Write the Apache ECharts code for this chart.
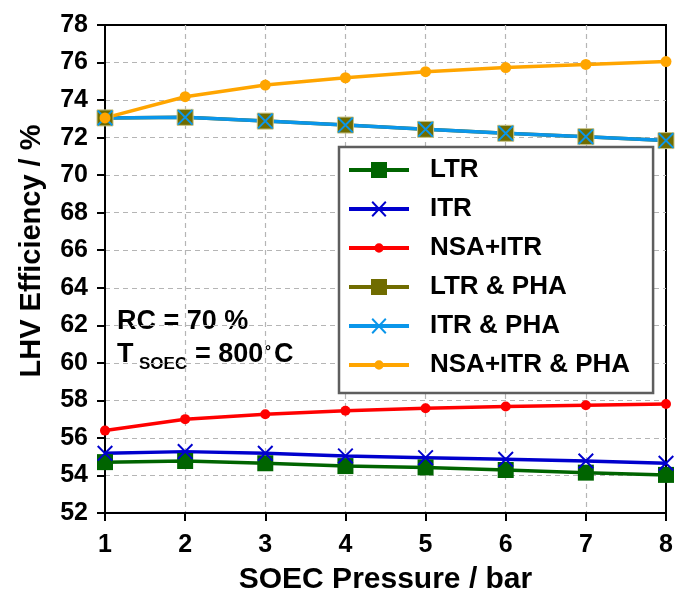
<!DOCTYPE html>
<html>
<head>
<meta charset="utf-8">
<script src="https://cdn.jsdelivr.net/npm/echarts@6/dist/echarts.min.js"></script>
<style>
  html, body { margin: 0; padding: 0; background: #fff; }
  #chart { width: 675px; height: 592px; }
</style>
</head>
<body>
<div id="chart"></div>
<script>
// 数据
var pressure = [1, 2, 3, 4, 5, 6, 7, 8];
var ltr = [54.71, 54.77, 54.65, 54.50, 54.43, 54.29, 54.15, 54.03];
var itr = [55.18, 55.27, 55.18, 55.04, 54.95, 54.86, 54.77, 54.65];
var nsaItr = [56.39, 57.00, 57.26, 57.45, 57.58, 57.67, 57.74, 57.81];
var ltrPha = [73.05, 73.08, 72.88, 72.67, 72.44, 72.23, 72.05, 71.84];
var itrPha = [73.05, 73.08, 72.88, 72.67, 72.44, 72.23, 72.05, 71.84];
var nsaItrPha = [73.05, 74.18, 74.80, 75.19, 75.51, 75.73, 75.90, 76.05];
var yTicks = [52, 78, 2];

var FONT = 'Liberation Sans';

// x marker as a filled path
var xMark = 'path://M0 1.4L1.4 0L16 14.6L14.6 16ZM14.6 0L16 1.4L1.4 16L0 14.6Z';
// legend icons: line + marker, 60x16 box
var corners = 'M0 0L0.01 0L0.01 0.01ZM59.99 15.99L60 15.99L60 16Z';
var bar = 'M0 6L60 6L60 10L0 10Z';
var iconSquare = 'path://' + corners + bar + 'M22 0L38 0L38 16L22 16Z';
var iconX = 'path://' + corners + bar + 'M22.5 1.4L23.9 0L37.5 14.6L36.1 16ZM36.1 0L37.5 1.4L23.9 16L22.5 14.6Z';
var iconDot = 'path://' + corners + bar + 'M34.7 8A4.7 4.7 0 1 1 25.3 8A4.7 4.7 0 1 1 34.7 8Z';

function pairs(ys) {
  var out = [];
  for (var i = 0; i < pressure.length; i++) out.push([pressure[i], ys[i]]);
  return out;
}

function mkSeries(name, ys, color, symbol, size, extra) {
  var s = {
    name: name,
    type: 'line',
    data: pairs(ys),
    symbol: symbol,
    symbolSize: size,
    showAllSymbol: true,
    lineStyle: { color: color, width: 3.5 },
    itemStyle: { color: color },
    emphasis: { disabled: true }
  };
  if (extra) s.itemStyle = extra;
  return s;
}

var myChart = echarts.init(document.getElementById('chart'));

var option = {
  animation: false,
  grid: {
    left: 105, right: 9, top: 25, bottom: 79,
    outerBoundsMode: 'none',
    show: true, borderColor: '#000', borderWidth: 2
  },
  xAxis: {
    type: 'value', min: 1, max: 8, interval: 1,
    name: 'SOEC Pressure / bar',
    nameLocation: 'middle', nameGap: 52,
    nameTextStyle: { fontFamily: FONT, fontWeight: 'bold', fontSize: 30, color: '#000' },
    axisLine: { lineStyle: { color: '#000', width: 2 } },
    axisTick: { show: true, inside: false, length: 8, lineStyle: { color: '#000', width: 2 } },
    axisLabel: { fontFamily: FONT, fontWeight: 'bold', fontSize: 25, color: '#000', margin: 20 },
    splitLine: { show: true, showMinLine: false, showMaxLine: false, lineStyle: { color: '#b5b5b5', type: [5, 4], width: 1.2 } }
  },
  yAxis: {
    type: 'value', min: yTicks[0], max: yTicks[1], interval: yTicks[2],
    name: 'LHV Efficiency / %',
    nameLocation: 'middle', nameGap: 59,
    nameTextStyle: { fontFamily: FONT, fontWeight: 'bold', fontSize: 29, color: '#000', padding: [0, 0, 0, 36] },
    axisLine: { show: true, lineStyle: { color: '#000', width: 2 } },
    axisTick: { show: true, inside: false, length: 8, lineStyle: { color: '#000', width: 2 } },
    axisLabel: { fontFamily: FONT, fontWeight: 'bold', fontSize: 25, color: '#000', margin: 17 },
    splitLine: { show: true, showMinLine: false, showMaxLine: false, lineStyle: { color: '#b5b5b5', type: [5, 4], width: 1.2 } }
  },
  legend: {
    orient: 'vertical',
    left: 339, top: 147,
    padding: [9, 23, 14, 10],
    backgroundColor: '#fff',
    borderColor: '#5e5e5e', borderWidth: 2.5,
    itemWidth: 60, itemHeight: 16, itemGap: 11,
    itemStyle: { borderWidth: 0 },
    textStyle: { fontFamily: FONT, fontWeight: 'bold', fontSize: 26, color: '#000', lineHeight: 28, padding: [0, 0, 0, 16] },
    data: [
      { name: 'LTR', icon: iconSquare },
      { name: 'ITR', icon: iconX },
      { name: 'NSA+ITR', icon: iconDot },
      { name: 'LTR & PHA', icon: iconSquare },
      { name: 'ITR & PHA', icon: iconX },
      { name: 'NSA+ITR & PHA', icon: iconDot }
    ]
  },
  graphic: [
    { type: 'text', x: 117, y: 322, style: { text: 'RC = 70 %', font: 'bold 27px ' + FONT, fill: '#000', verticalAlign: 'middle' } },
    { type: 'text', x: 117, y: 355, style: { text: 'T', font: 'bold 27px ' + FONT, fill: '#000', verticalAlign: 'middle' } },
    { type: 'text', x: 139, y: 364, style: { text: 'SOEC', font: 'bold 17px ' + FONT, fill: '#000', verticalAlign: 'middle' } },
    { type: 'text', x: 195, y: 355, style: { text: '= 800', font: 'bold 27px ' + FONT, fill: '#000', verticalAlign: 'middle' } },
    { type: 'text', x: 265, y: 352, style: { text: '°', font: 'bold 15px ' + FONT, fill: '#000', verticalAlign: 'middle' } },
    { type: 'text', x: 274, y: 355, style: { text: 'C', font: 'bold 27px ' + FONT, fill: '#000', verticalAlign: 'middle' } }
  ],
  series: [
    mkSeries('LTR', ltr, '#006400', 'rect', 16),
    mkSeries('ITR', itr, '#0000cd', xMark, 16),
    mkSeries('NSA+ITR', nsaItr, '#ff0000', 'circle', 10),
    mkSeries('LTR & PHA', ltrPha, '#706c00', 'rect', 16, { color: '#706c00', borderColor: '#c9c487', borderWidth: 1 }),
    mkSeries('ITR & PHA', itrPha, '#0a96ea', xMark, 16),
    mkSeries('NSA+ITR & PHA', nsaItrPha, '#ffa500', 'circle', 11)
  ]
};
myChart.setOption(option);
</script>
</body>
</html>
